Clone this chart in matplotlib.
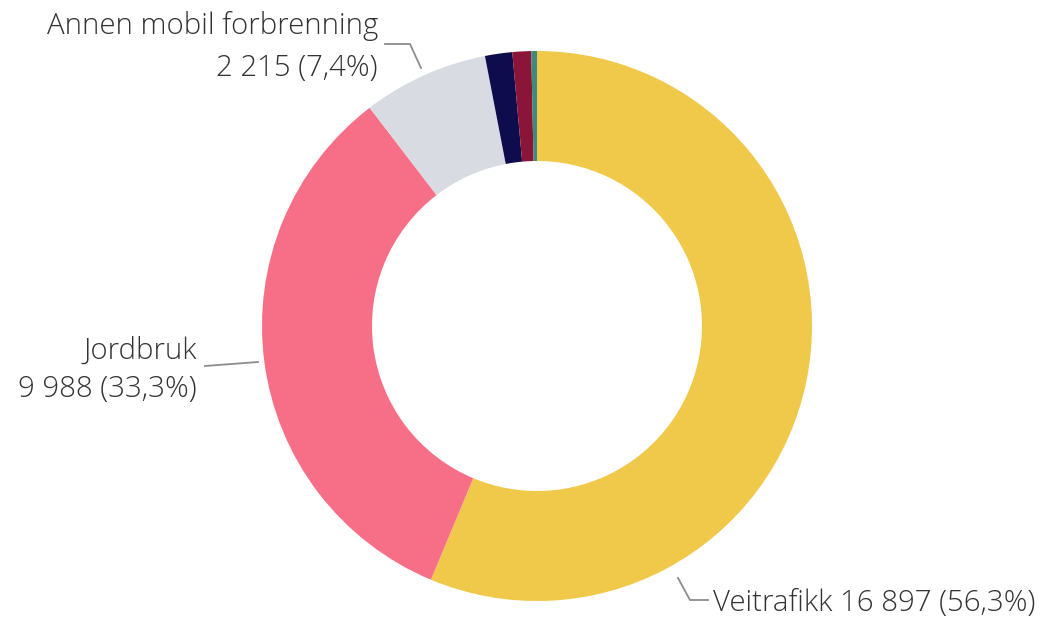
import numpy as np
import matplotlib
matplotlib.use("Agg")
import matplotlib.pyplot as plt

categories = ["Veitrafikk", "Jordbruk", "Annen mobil forbrenning", "Andre 1", "Andre 2", "Andre 3"]
values = [16897, 9988, 2215, 480, 330, 100]
colors = ["#F0C84A", "#F76F87", "#D8DCE2", "#0E0C4C", "#8A1538", "#3E8A7C"]

W, H = 1046, 621
fig = plt.figure(figsize=(W / 100, H / 100), dpi=100)
ax = fig.add_axes([0, 0, 1, 1])

cx, cy, R = 537, H - 326, 275
wedges, _ = ax.pie(values, colors=colors, startangle=90, counterclock=False,
                   radius=R, center=(cx, cy), frame=True,
                   wedgeprops=dict(width=R * 0.4, linewidth=0))
ax.set_xlim(0, W)
ax.set_ylim(0, H)
ax.set_aspect("equal")
ax.axis("off")

total = sum(values)

def fmt(v):
    return f"{v:,}".replace(",", " ")

def pct(v):
    return f"{100 * v / total:.1f}".replace(".", ",") + "%"

txt_kw = dict(fontsize=21.2, color="#333333", family=["Open Sans", "DejaVu Sans"], fontweight="light")
line_kw = dict(color="#8C8C8C", lw=1.3)

def py(y):
    return H - y

# Veitrafikk
ax.plot([678, 690, 708], [py(578), py(600), py(600)], **line_kw)
ax.text(713, py(603), f"{categories[0]} {fmt(values[0])} ({pct(values[0])})",
        ha="left", va="center", **txt_kw)

# Jordbruk
ax.plot([205, 258], [py(366), py(362)], **line_kw)
ax.text(197, py(370), f"{categories[1]}\n{fmt(values[1])} ({pct(values[1])})",
        ha="right", va="center", multialignment="right", linespacing=1.42, **txt_kw)

# Annen mobil forbrenning
ax.plot([385, 410, 421], [py(44), py(44), py(68)], **line_kw)
ax.text(378, py(47), f"{categories[2]}\n{fmt(values[2])} ({pct(values[2])})",
        ha="right", va="center", multialignment="right", linespacing=1.52, **txt_kw)

fig.savefig("out.png", dpi=100, facecolor="white")
